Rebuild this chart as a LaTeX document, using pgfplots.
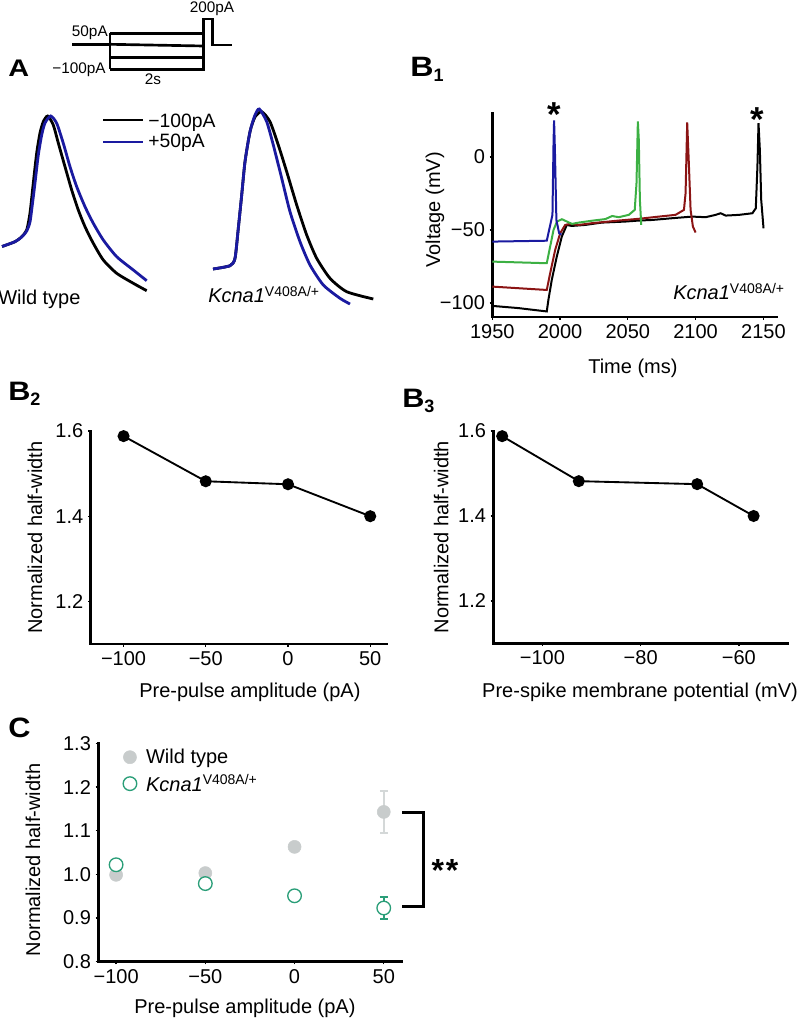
\documentclass[border=0pt]{standalone}
\usepackage{graphicx}
\usepackage{pgfplots}
\pgfplotsset{compat=1.18}
\usepackage{fontspec}
\setmainfont{Liberation Sans}

\definecolor{trblue}{HTML}{1A1AA0}
\definecolor{trgreen}{HTML}{3CB043}
\definecolor{trred}{HTML}{8B1414}
\definecolor{wtgray}{HTML}{C8CCCC}
\definecolor{wtbar}{HTML}{D4D8D8}
\definecolor{kgreen}{HTML}{2A9E78}

\newcommand{\fs}{\fontsize{15}{18}\selectfont}
\newcommand{\kcna}{\textit{Kcna1}\textsuperscript{V408A/+}}

\pgfplotsset{
  panel/.style={
    scale only axis,
    axis lines=left,
    axis line style={-, line width=1.9pt, line cap=rect},
    tick align=outside,
    major tick length=2pt,
    tick style={line width=1pt, black},
    tick label style={font=\fs},
    label style={font=\fs},
    clip=false,
  },
}

\begin{document}
\begin{tikzpicture}

% ---------------- Panel A (protocol and spikes, no visible axes) ----------------
\begin{axis}[scale only axis, hide axis, clip=false,
  at={(0pt,0pt)}, anchor=north west,
  width=300pt, height=232.5pt,
  xmin=0, xmax=400, ymin=-310, ymax=0]
% protocol
\addplot[black, line width=2pt] coordinates {(72,-44.3) (110,-44.3)};
\addplot[black, line width=2pt] coordinates {(110,-33.3) (110,-69.3)};
\addplot[black, line width=2pt] coordinates {(110,-33.3) (203.3,-33.3)};
\addplot[black, line width=2pt] coordinates {(110,-44.3) (203.3,-46)};
\addplot[black, line width=2pt] coordinates {(110,-57.7) (203.3,-57.7)};
\addplot[black, line width=2pt] coordinates {(110,-69.3) (203.3,-69.3) (203.3,-19) (212.3,-19) (212.3,-45) (231.7,-45)};
% legend lines
\addplot[black, line width=2.1pt] coordinates {(103,-120) (143,-120)};
\addplot[trblue, line width=2.1pt] coordinates {(103,-142) (143,-142)};
% wild type
\addplot[black, line width=2.1pt, smooth, tension=0.4] coordinates {
(2,-246.5) (15,-241.7) (21.7,-236.7) (26.7,-230) (30,-213) (33.3,-183) (36.7,-153)
(40,-133) (43.3,-121.7) (47.7,-116) (53.3,-125) (58.3,-143) (65,-166.7) (71.7,-190)
(78.3,-210) (85,-226.7) (93.3,-243.3) (103.3,-260) (116.7,-273.3) (133.3,-283.3) (146.7,-290.7)};
\addplot[trblue, line width=2.1pt, smooth, tension=0.4] coordinates {
(2,-246.5) (15,-241.7) (21.7,-237) (26.7,-231) (30,-222) (32.3,-205) (35,-183) (38.3,-155)
(41.7,-135) (45,-123) (50.7,-116) (56.7,-123.3) (63.3,-143.3) (70,-166.7) (76.7,-186.7)
(85,-206.7) (93.3,-223.3) (103.3,-240) (116.7,-256.7) (133.3,-270) (146.7,-280.7)};
% Kcna1
\addplot[black, line width=2.1pt, smooth, tension=0.4] coordinates {
(213,-269) (230,-265.7) (235,-258.3) (238.3,-228.3) (241.7,-195) (245,-161.7) (250,-131.7)
(255,-117) (261.7,-111.7) (270,-121.7) (278.3,-145) (286.7,-171.7) (296.7,-205) (306.7,-235)
(316.7,-258.3) (330,-278.3) (346.7,-291.7) (373.3,-299)};
\addplot[trblue, line width=2.1pt, smooth, tension=0.4] coordinates {
(213,-269) (230,-265.7) (235,-258.3) (238.3,-228.3) (241.7,-195) (245,-161.7) (250,-131.7)
(255,-115) (259.3,-109) (266.7,-121.7) (273.3,-145) (281.7,-178.3) (290,-211.7) (300,-241.7)
(310,-265) (323.3,-285) (340,-298.3) (350,-304)};
\end{axis}

% ---------------- Panel B1 ----------------
\begin{axis}[panel,
  at={(369.2pt,-237.75pt)}, anchor=south west,
  width=213.5pt, height=153pt,
  xmin=1950, xmax=2160, ymin=-109.6, ymax=30,
  xtick={1950,2000,2050,2100,2150}, xticklabels={1950,2000,2050,2100,2150},
  ytick={-100,-50,0}, yticklabels={−100,−50,0},
  xlabel={Time (ms)}, ylabel={Voltage (mV)},
  xlabel style={at={(axis description cs:0.494,-0.25)}, anchor=center},
  ylabel style={at={(axis description cs:-0.201,0.525)}, anchor=center}]
\addplot[black, line width=1.5pt] coordinates {
(1950,-102) (1969.2,-103.5) (1990.2,-105.8) (1991.4,-97.9) (1993.9,-84.2) (1997.6,-68.2)
(2001.3,-54.5) (2005,-46.6) (2008.6,-47.3) (2018.5,-46.6) (2030.8,-45) (2048,-44.3)
(2058.1,-43.6) (2068,-43.2) (2082.7,-42) (2097.5,-40.9) (2107.4,-41.3) (2114.8,-39.7)
(2118.5,-38.6) (2122.2,-40.2) (2132.1,-39.7) (2141.9,-38.6) (2144.4,-35.2) (2145.6,-6.6)
(2146.4,23.1) (2147.4,4.8) (2148.4,-29.5) (2150.1,-48.9)};
\addplot[trred, line width=1.5pt] coordinates {
(1950,-88.8) (1990.2,-91.1) (1992.7,-79.7) (1996.4,-63.7) (2000.1,-52.3) (2003.8,-46.6)
(2007.5,-45.9) (2013.7,-46.6) (2023.6,-45.4) (2043.3,-43.6) (2058.1,-42.4) (2072.9,-40.9)
(2085.2,-39.7) (2091.4,-36.3) (2092.6,-24.9) (2093.8,23.5) (2095.1,-6.6) (2096.3,-36.3)
(2098,-47.7) (2100,-51.8)};
\addplot[trgreen, line width=1.5pt] coordinates {
(1950,-71.7) (1990.2,-72.8) (1992.7,-61.4) (1995.2,-50) (1997.7,-44.3) (2001.4,-42.7)
(2005.1,-44.3) (2008.8,-45.9) (2013.7,-45) (2023.6,-43.7) (2033.4,-42.6) (2038.4,-40.5)
(2043.3,-41.3) (2050.7,-39.7) (2055.1,-36.3) (2056.4,-18) (2057.4,24.2) (2058.1,11.6)
(2058.9,-29.5) (2059.9,-46.6)};
\addplot[trblue, line width=1.5pt] coordinates {
(1950,-58) (1990.2,-57.4) (1994.4,-39.7) (1995.2,10) (1995.6,24.9) (1996.2,5)
(1997.3,-43.2) (1999.3,-52.2) (2001,-53.3)};
\end{axis}

% ---------------- Panel B2 ----------------
\begin{axis}[panel,
  at={(68pt,-483pt)}, anchor=south west,
  width=222pt, height=159.75pt,
  xmin=-120, xmax=60, ymin=1.1, ymax=1.6,
  xtick={-100,-50,0,50}, xticklabels={−100,−50,0,50},
  ytick={1.2,1.4,1.6}, yticklabels={1.2,1.4,1.6},
  xlabel={Pre-pulse amplitude (pA)}, ylabel={Normalized half-width},
  xlabel style={at={(axis description cs:0.538,-0.225)}, anchor=center},
  ylabel style={at={(axis description cs:-0.188,0.5)}, anchor=center}]
\addplot[black, line width=1.4pt, mark=*, mark size=3.8pt] coordinates {
(-100,1.588) (-50,1.482) (0,1.475) (50,1.400)};
\end{axis}

% ---------------- Panel B3 ----------------
\begin{axis}[panel,
  at={(370pt,-482.5pt)}, anchor=south west,
  width=221pt, height=159.2pt,
  xmin=-110, xmax=-50, ymin=1.1, ymax=1.6,
  xtick={-100,-80,-60}, xticklabels={−100,−80,−60},
  ytick={1.2,1.4,1.6}, yticklabels={1.2,1.4,1.6},
  xlabel={Pre-spike membrane potential (mV)}, ylabel={Normalized half-width},
  xlabel style={at={(axis description cs:0.498,-0.229)}, anchor=center},
  ylabel style={at={(axis description cs:-0.177,0.5)}, anchor=center}]
\addplot[black, line width=1.4pt, mark=*, mark size=3.8pt] coordinates {
(-108.2,1.588) (-92.6,1.482) (-68.5,1.475) (-57.0,1.400)};
\end{axis}

% ---------------- Panel C ----------------
\begin{axis}[panel,
  at={(73.7pt,-721.3pt)}, anchor=south west,
  width=227.5pt, height=163.8pt,
  xmin=-110, xmax=60, ymin=0.8, ymax=1.3,
  xtick={-100,-50,0,50}, xticklabels={−100,−50,0,50},
  ytick={0.8,0.9,1.0,1.1,1.2,1.3}, yticklabels={0.8,0.9,1.0,1.1,1.2,1.3},
  xlabel={Pre-pulse amplitude (pA)}, ylabel={Normalized half-width},
  xlabel style={at={(axis description cs:0.4835,-0.212)}, anchor=center},
  ylabel style={at={(axis description cs:-0.215,0.466)}, anchor=center},
  legend style={draw=none, fill=none, font=\fs, at={(axis description cs:0.068,1.0)}, anchor=north west,
    column sep=5pt, row sep=2.5pt},
  legend cell align=left]
\addplot[forget plot, wtbar, line width=1.5pt, only marks, mark=none,
  error bars/.cd, y dir=both, y explicit,
  error bar style={line width=1.5pt, wtbar},
  error mark options={line width=1.5pt, wtbar, mark size=3pt, rotate=90}]
  coordinates {(50,1.143) +- (0,0.048)};
\addplot[only marks, mark=*, mark size=4.9pt, mark options={draw=wtgray, fill=wtgray}] coordinates {
(-100,0.999) (-50,1.003) (0,1.063) (50,1.143)};
\addlegendentry{Wild type}
\addplot[forget plot, kgreen, line width=1.5pt, only marks, mark=none,
  error bars/.cd, y dir=both, y explicit,
  error bar style={line width=1.5pt, kgreen},
  error mark options={line width=1.5pt, kgreen, mark size=3pt, rotate=90}]
  coordinates {(50,0.923) +- (0,0.026)};
\addplot[only marks, mark=*, mark size=5.1pt, mark options={draw=kgreen, fill=white, line width=1pt}] coordinates {
(-100,1.022) (-50,0.979) (0,0.951) (50,0.923)};
\addlegendentry{\kcna}
\draw[line width=2.3pt] (axis cs:60.4,1.142) -- (axis cs:72.5,1.142) -- (axis cs:72.5,0.9275) -- (axis cs:60.4,0.9275);
\end{axis}

% ---------------- Texts ----------------
\begin{scope}[x=0.75pt,y=-0.75pt]
\node[anchor=base west, inner sep=0] at (8,77) {\scalebox{1.2}[1]{\fontsize{18}{18}\selectfont\bfseries A}};
\node[anchor=base west, inner sep=0] at (410,77) {\scalebox{1.15}[1]{\fontsize{21}{21}\selectfont\bfseries B}\raisebox{-3.75pt}{\fontsize{13.5}{13.5}\selectfont\bfseries 1}};
\node[anchor=base west, inner sep=0] at (8,400) {\scalebox{1.15}[1]{\fontsize{20}{20}\selectfont\bfseries B}\raisebox{-3.75pt}{\fontsize{13.5}{13.5}\selectfont\bfseries 2}};
\node[anchor=base west, inner sep=0] at (402,407) {\scalebox{1.15}[1]{\fontsize{20}{20}\selectfont\bfseries B}\raisebox{-3.75pt}{\fontsize{13.5}{13.5}\selectfont\bfseries 3}};
\node[anchor=base west, inner sep=0] at (8,737) {\scalebox{1.1}[1]{\fontsize{21}{21}\selectfont\bfseries C}};
% protocol labels
\node[anchor=base east, inner sep=0] at (108,37) {\fontsize{11.5}{12}\selectfont 50pA};
\node[anchor=base east, inner sep=0] at (106,74) {\fontsize{11.5}{12}\selectfont −100pA};
\node[anchor=base, inner sep=0] at (153,85) {\fontsize{11.5}{12}\selectfont 2s};
\node[anchor=base, inner sep=0] at (212,13) {\fontsize{11.5}{12}\selectfont 200pA};
% A legend
\node[anchor=base west, inner sep=0] at (148,128) {\fontsize{14.5}{15}\selectfont −100pA};
\node[anchor=base west, inner sep=0] at (148,148) {\fontsize{14.5}{15}\selectfont +50pA};
\node[anchor=base west, inner sep=0] at (-2,305) {\fs Wild type};
\node[anchor=base west, inner sep=0] at (208,303) {\fs\kcna};
% B1
\node[anchor=base east, inner sep=0] at (785,300) {\fs\kcna};
\node[anchor=base, inner sep=0] at (554,127) {\fontsize{26}{26}\selectfont\bfseries *};
\node[anchor=base, inner sep=0] at (757,132) {\fontsize{26}{26}\selectfont\bfseries *};
% C
\node[anchor=base, inner sep=0] at (445,881) {\fontsize{24}{24}\selectfont\bfseries *\hspace{1.5pt}*};
\end{scope}

\pgfresetboundingbox
\useasboundingbox (0pt,0pt) rectangle (601.5pt,-764.25pt);
\end{tikzpicture}
\end{document}
